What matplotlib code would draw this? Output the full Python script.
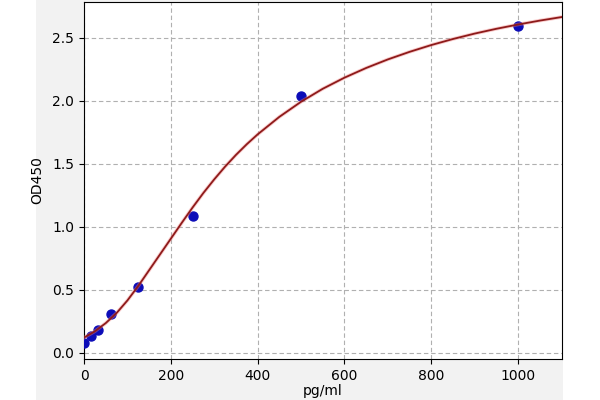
import matplotlib
matplotlib.use("Agg")
import matplotlib.pyplot as plt
from matplotlib.patches import Rectangle

# Standard points (concentration pg/ml, OD450)
conc = [0, 15.6, 31.25, 62.5, 125, 250, 500, 1000]
od = [0.075, 0.135, 0.18, 0.31, 0.52, 1.087, 2.037, 2.593]

# Fitted curve
curve_x = [0, 25, 50, 75, 100, 125, 150, 175, 200, 225, 250, 275, 300, 325,
           350, 375, 400, 450, 500, 550, 600, 650, 700, 750, 800, 850, 900,
           950, 1000, 1050, 1100]
curve_y = [0.12, 0.17, 0.235, 0.315, 0.415, 0.53, 0.655, 0.78, 0.905, 1.03,
           1.152, 1.268, 1.376, 1.477, 1.570, 1.655, 1.733, 1.872, 1.992,
           2.095, 2.183, 2.260, 2.328, 2.388, 2.442, 2.490, 2.533, 2.571,
           2.605, 2.636, 2.664]

xticks = [0, 200, 400, 600, 800, 1000]
yticks = [0.0, 0.5, 1.0, 1.5, 2.0, 2.5]

fig = plt.figure(figsize=(6, 4), dpi=100, facecolor="white")
fig.patches.append(Rectangle((36 / 600, 0), (563 - 36) / 600, 1,
                             transform=fig.transFigure, facecolor="#f2f2f2",
                             edgecolor="none", zorder=-10))
ax = fig.add_axes([84 / 600, 1 - 359.3 / 400, (561.5 - 84) / 600, (359.3 - 1.7) / 400])
ax.set_facecolor("white")

ax.scatter(conc, od, s=42, color="#0c0cb8", zorder=3)
ax.plot(curve_x, curve_y, color="#f08080", lw=2.6, alpha=0.4, zorder=4,
        solid_joinstyle="round")
ax.plot(curve_x, curve_y, color="#8e1a1a", lw=1.3, zorder=5,
        solid_joinstyle="round")

ax.set_xlim(0, 1100)
ax.set_ylim(-0.052, 2.786)
ax.set_xticks(xticks)
ax.set_yticks(yticks)
ax.set_yticklabels([f"{v:.1f}" for v in yticks])
ax.grid(True, color="#b0b0b0", linestyle=(0, (4, 2.5)), linewidth=0.8)
ax.set_axisbelow(True)
ax.set_xlabel("pg/ml", fontsize=10, labelpad=0.5)
ax.set_ylabel("OD450", fontsize=10, labelpad=6)
ax.tick_params(labelsize=10)

fig.savefig("out.png", dpi=100, facecolor=fig.get_facecolor())
